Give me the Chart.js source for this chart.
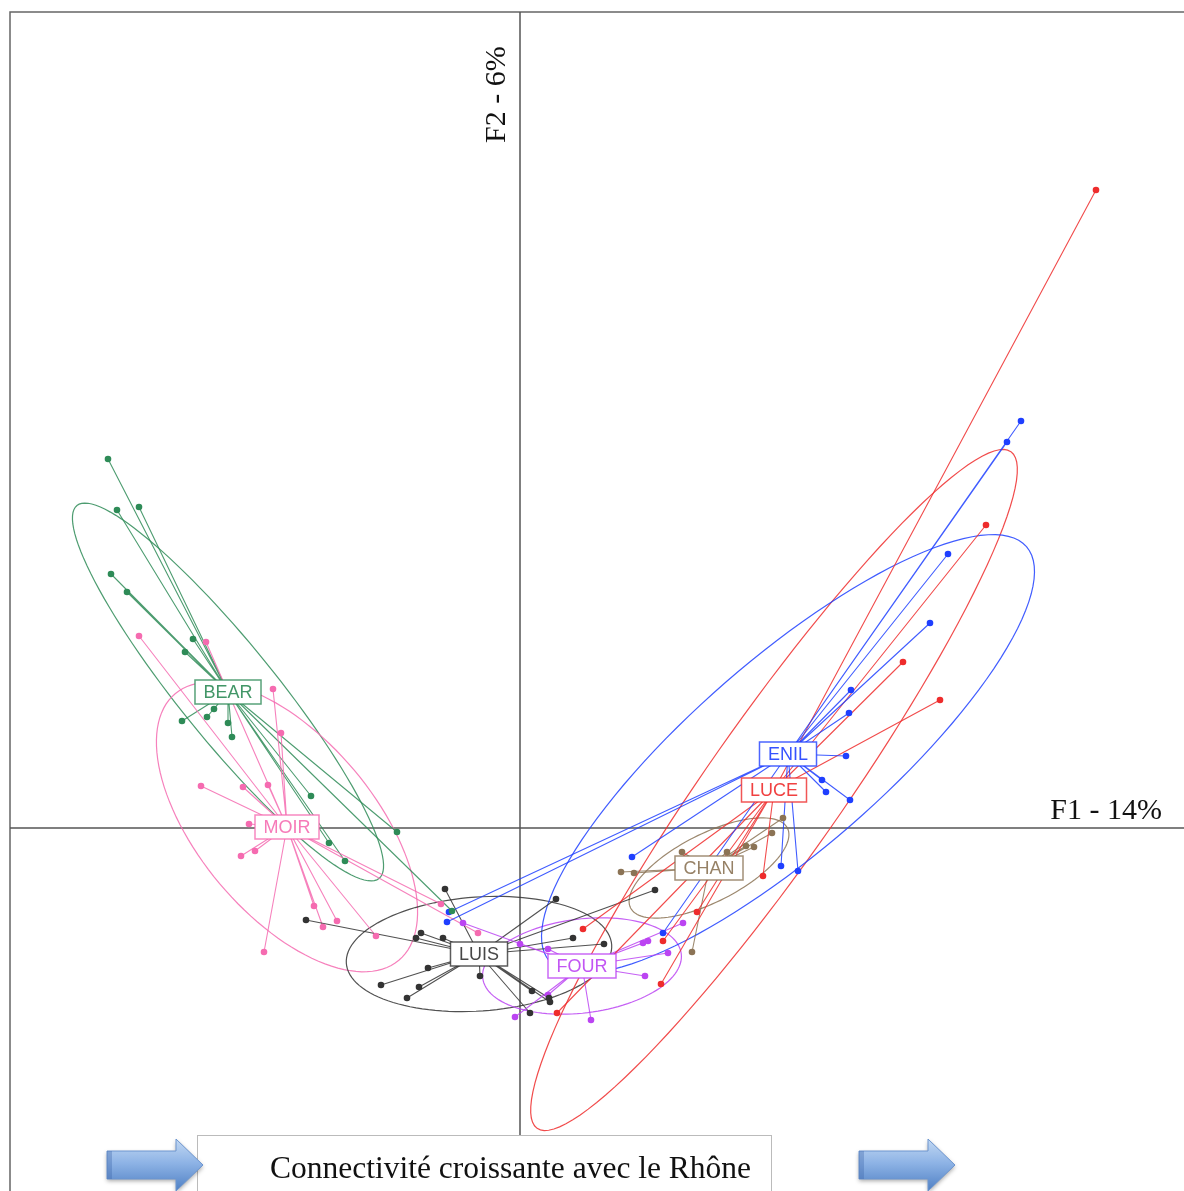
<!DOCTYPE html>
<html>
<head>
<meta charset="utf-8">
<script src="https://cdn.jsdelivr.net/npm/chart.js@4.4.1/dist/chart.umd.min.js"></script>
<style>
  html, body { margin: 0; padding: 0; background: #fff; }
  canvas { display: block; }
</style>
</head>
<body>
<canvas id="chart" width="1184" height="1191"></canvas>
<script>
// groups of the s.class plot, ordered as in the legend labels
const groups = ['BEAR', 'MOIR', 'LUIS', 'FOUR', 'CHAN', 'LUCE', 'ENIL'];
const colors = ['#2e8b57', '#f56bb0', '#333333', '#bb44f2', '#8b7355', '#ee2c2c', '#1f3fff'];

// sample scores on F1 / F2
const bearPts = [[-4.12, 3.69], [-4.03, 3.18], [-3.81, 3.21], [-4.09, 2.54], [-3.93, 2.36], [-3.27, 1.89],
  [-3.35, 1.76], [-3.06, 1.19], [-3.13, 1.11], [-3.38, 1.07], [-2.92, 1.05], [-2.88, 0.91],
  [-2.09, 0.32], [-1.23, -0.04], [-1.91, -0.15], [-1.75, -0.33], [-0.68, -0.83]];
const moirPts = [[-3.81, 1.92], [-3.14, 1.86], [-2.47, 1.39], [-2.39, 0.95], [-3.19, 0.42], [-2.77, 0.41],
  [-2.52, 0.43], [-2.71, 0.04], [-2.65, -0.23], [-2.79, -0.28], [-2.06, -0.78], [-1.97, -0.99],
  [-1.83, -0.93], [-1.44, -1.08], [-2.56, -1.24], [-0.79, -0.76], [-0.42, -1.05]];
const luisPts = [[-0.75, -0.61], [-2.14, -0.92], [-0.99, -1.05], [-1.04, -1.10], [-0.77, -1.10], [-0.92, -1.40],
  [-1.39, -1.57], [-1.01, -1.59], [-1.13, -1.70], [-0.40, -1.48], [0.12, -1.63], [0.29, -1.70],
  [0.30, -1.74], [0.10, -1.85], [0.36, -0.71], [0.53, -1.10], [0.84, -1.16], [1.35, -0.62]];
const fourPts = [[-0.57, -0.95], [0.00, -1.16], [0.28, -1.21], [-0.05, -1.89], [0.71, -1.92], [0.28, -1.67],
  [1.63, -0.95], [1.28, -1.13], [1.23, -1.15], [1.48, -1.25], [1.25, -1.48]];
const chanPts = [[2.63, 0.10], [2.52, -0.05], [2.34, -0.19], [2.26, -0.18], [2.07, -0.24], [1.62, -0.24],
  [1.01, -0.44], [1.14, -0.45], [1.72, -1.24]];
const lucePts = [[5.76, 6.38], [4.66, 3.03], [3.83, 1.66], [4.20, 1.28], [2.43, -0.48], [1.77, -0.84],
  [0.63, -1.01], [1.43, -1.13], [1.41, -1.56], [0.37, -1.85]];
const enilPts = [[5.01, 4.07], [4.87, 3.86], [4.28, 2.74], [4.10, 2.05], [3.31, 1.38], [3.29, 1.15],
  [3.26, 0.72], [3.02, 0.48], [3.06, 0.36], [3.30, 0.28], [2.61, -0.38], [2.78, -0.43],
  [1.12, -0.29], [1.43, -1.05], [-0.71, -0.84], [-0.73, -0.94]];
const points = [bearPts, moirPts, luisPts, fourPts, chanPts, lucePts, enilPts];

// group centroids (where the stars meet and the labels sit)
const centroidX = [-2.92, -2.33, -0.41, 0.62, 1.89, 2.54, 2.68];
const centroidY = [1.36, 0.01, -1.26, -1.38, -0.40, 0.38, 0.74];

// inertia ellipses: half axes and angle of the major axis (degrees)
const ellA = [2.40, 1.74, 1.33, 1.00, 0.88, 4.13, 3.16];
const ellB = [0.48, 0.88, 0.57, 0.47, 0.34, 0.68, 0.95];
const ellAngle = [-51, -50, 4, 7, 27, 55, 41];

const xTitle = 'F1 - 14%';
const yTitle = 'F2 - 6%';
const footer = 'Connectivité croissante avec le Rhône';

const px = (chart, v) => chart.scales.x.getPixelForValue(v);
const py = (chart, v) => chart.scales.y.getPixelForValue(v);

const backdrop = {
  id: 'backdrop',
  beforeDatasetsDraw(chart) {
    const { ctx, chartArea } = chart;
    ctx.save();
    // frame
    ctx.strokeStyle = '#666';
    ctx.lineWidth = 1.5;
    ctx.beginPath();
    ctx.moveTo(chartArea.left, chartArea.bottom);
    ctx.lineTo(chartArea.left, chartArea.top);
    ctx.lineTo(chartArea.right, chartArea.top);
    ctx.stroke();
    // axes through the origin
    ctx.strokeStyle = '#555';
    ctx.lineWidth = 1.5;
    ctx.beginPath();
    ctx.moveTo(chartArea.left, py(chart, 0));
    ctx.lineTo(chartArea.right, py(chart, 0));
    ctx.moveTo(px(chart, 0), chartArea.top);
    ctx.lineTo(px(chart, 0), chartArea.bottom);
    ctx.stroke();

    // ellipses
    groups.forEach((g, i) => {
      const a = ellA[i];
      const b = ellB[i];
      const th = ellAngle[i] * Math.PI / 180;
      ctx.strokeStyle = colors[i];
      ctx.lineWidth = 1.2;
      ctx.globalAlpha = 0.85;
      ctx.beginPath();
      for (let k = 0; k <= 120; k += 1) {
        const t = (k / 120) * Math.PI * 2;
        const ex = a * Math.cos(t);
        const ey = b * Math.sin(t);
        const x = centroidX[i] + ex * Math.cos(th) - ey * Math.sin(th);
        const y = centroidY[i] + ex * Math.sin(th) + ey * Math.cos(th);
        if (k === 0) ctx.moveTo(px(chart, x), py(chart, y));
        else ctx.lineTo(px(chart, x), py(chart, y));
      }
      ctx.stroke();
    });

    // stars
    groups.forEach((g, i) => {
      ctx.strokeStyle = colors[i];
      ctx.lineWidth = 1.1;
      ctx.globalAlpha = 0.85;
      ctx.beginPath();
      points[i].forEach(([x, y]) => {
        ctx.moveTo(px(chart, centroidX[i]), py(chart, centroidY[i]));
        ctx.lineTo(px(chart, x), py(chart, y));
      });
      ctx.stroke();
    });
    ctx.restore();
  },
};

function drawArrow(ctx, x0, mid) {
  ctx.save();
  const grad = ctx.createLinearGradient(0, mid - 26, 0, mid + 26);
  grad.addColorStop(0, '#c2d8f2');
  grad.addColorStop(0.45, '#8fb4e6');
  grad.addColorStop(1, '#4f80c4');
  ctx.shadowColor = 'rgba(0,0,0,0.35)';
  ctx.shadowBlur = 4;
  ctx.shadowOffsetY = 2;
  ctx.fillStyle = grad;
  ctx.strokeStyle = '#6c95cf';
  ctx.lineWidth = 1;
  ctx.beginPath();
  ctx.moveTo(x0, mid - 14);
  ctx.lineTo(x0 + 69, mid - 14);
  ctx.lineTo(x0 + 69, mid - 26);
  ctx.lineTo(x0 + 96, mid);
  ctx.lineTo(x0 + 69, mid + 26);
  ctx.lineTo(x0 + 69, mid + 14);
  ctx.lineTo(x0, mid + 14);
  ctx.closePath();
  ctx.fill();
  ctx.shadowColor = 'transparent';
  ctx.stroke();
  ctx.fillStyle = 'rgba(60,100,170,0.35)';
  ctx.fillRect(x0, mid - 14, 5, 28);
  ctx.restore();
}

const overlay = {
  id: 'overlay',
  afterDatasetsDraw(chart) {
    const { ctx } = chart;
    ctx.save();
    // group labels
    ctx.font = '18px "Liberation Sans", Arial, sans-serif';
    ctx.textAlign = 'center';
    ctx.textBaseline = 'middle';
    groups.forEach((g, i) => {
      const x = px(chart, centroidX[i]);
      const y = py(chart, centroidY[i]);
      const w = ctx.measureText(g).width + 17;
      const h = 24;
      ctx.fillStyle = '#fff';
      ctx.fillRect(x - w / 2, y - h / 2, w, h);
      ctx.strokeStyle = colors[i];
      ctx.lineWidth = 1.5;
      ctx.globalAlpha = 0.8;
      ctx.strokeRect(x - w / 2, y - h / 2, w, h);
      ctx.globalAlpha = 0.9;
      ctx.fillStyle = colors[i];
      ctx.fillText(g, x, y + 1);
      ctx.globalAlpha = 1;
    });

    // axis titles
    ctx.fillStyle = '#111';
    ctx.font = '30px "Liberation Serif", "Times New Roman", serif';
    ctx.textAlign = 'right';
    ctx.textBaseline = 'alphabetic';
    ctx.fillText(xTitle, 1162, 819);
    ctx.save();
    ctx.translate(505, 143);
    ctx.rotate(-Math.PI / 2);
    ctx.textAlign = 'left';
    ctx.fillText(yTitle, 0, 0);
    ctx.restore();

    // footer box and arrows
    ctx.fillStyle = '#fff';
    ctx.fillRect(197, 1135, 574, 60);
    ctx.strokeStyle = '#bbb';
    ctx.lineWidth = 1;
    ctx.strokeRect(197.5, 1135.5, 574, 60);
    ctx.fillStyle = '#111';
    ctx.font = '31.5px "Liberation Serif", "Times New Roman", serif';
    ctx.textAlign = 'left';
    ctx.fillText(footer, 270, 1178);
    drawArrow(ctx, 107, 1165);
    drawArrow(ctx, 859, 1165);
    ctx.restore();
  },
};

new Chart(document.getElementById('chart'), {
  type: 'scatter',
  data: {
    datasets: groups.map((g, i) => ({
      label: g,
      data: points[i].map(([x, y]) => ({ x, y })),
      backgroundColor: colors[i],
      borderWidth: 0,
      pointRadius: 3.3,
    })),
  },
  options: {
    responsive: false,
    animation: false,
    devicePixelRatio: 1,
    layout: { autoPadding: false, padding: { left: 10, top: 12, right: 0, bottom: 0 } },
    scales: {
      x: { display: false, min: -5.10, max: 6.64 },
      y: { display: false, min: -3.63, max: 8.16 },
    },
    plugins: {
      legend: { display: false },
      tooltip: { enabled: false },
    },
  },
  plugins: [backdrop, overlay],
});
</script>
</body>
</html>
